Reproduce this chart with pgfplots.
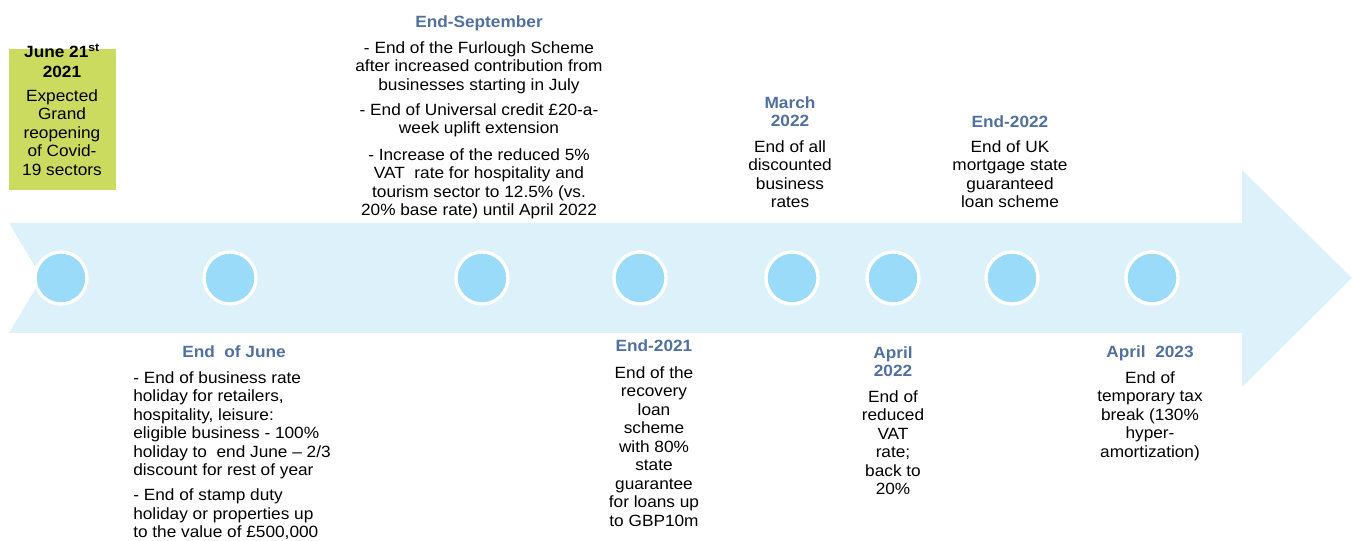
\documentclass[border=0pt]{standalone}
\usepackage{pgfplots}
\pgfplotsset{compat=1.18}
\usepackage{fontspec}
\setmainfont[FakeStretch=1.06]{Liberation Sans}
\definecolor{arrowblue}{HTML}{DDF1FB}
\definecolor{dotblue}{HTML}{99DBF8}
\definecolor{headblue}{HTML}{50709E}
\definecolor{boxgreen}{HTML}{CBDB5F}
\newcommand{\tf}{\fontsize{12.2}{13.9}\selectfont}
\tikzset{
  txt/.style={inner sep=0pt, font=\tf, align=center, anchor=north},
  hd/.style={inner sep=0pt, font=\tf\bfseries, text=headblue, align=center, anchor=north}}
\begin{document}
\begin{tikzpicture}
\begin{axis}[scale only axis, width=1015.5pt, height=405.75pt,
  xmin=0, xmax=1354, ymin=0, ymax=541, y dir=reverse,
  axis lines=none, clip=false]
% green box
\addplot[fill=boxgreen, draw=none] coordinates {(9,49)(116,49)(116,190)(9,190)} -- cycle;
% arrow
\addplot[fill=arrowblue, draw=none] coordinates {(9,223)(1242,223)(1242,170)(1352,278)(1242,387)(1242,333)(9,333)(42,278)} -- cycle;
% milestones
\addplot[only marks, mark=*, mark size=19.5pt, mark options={fill=dotblue, draw=white, line width=2.5pt}]
 coordinates {(61,278)(230,278)(482,278)(640,278)(792,278)(893,278)(1012,278)(1152,278)};

% June 21st
\node[txt, font=\tf\bfseries] at (axis cs:62,44) {June 21\textsuperscript{st}\\[1pt]2021};
\node[txt] at (axis cs:62,89) {Expected\\Grand\\reopening\\of Covid-\\19 sectors};

% End-September
\node[hd] at (axis cs:479,15) {End-September};
\node[txt] at (axis cs:479,41) {- End of the Furlough Scheme\\after increased contribution from\\businesses starting in July\\[5pt]
- End of Universal credit £20-a-\\week uplift extension\\[6pt]
- Increase of the reduced 5\%\\VAT\ \ rate for hospitality and\\tourism sector to 12.5\% (vs.\\20\% base rate) until April 2022};

% March 2022
\node[hd] at (axis cs:790,96) {March\\2022};
\node[txt] at (axis cs:790,140) {End of all\\discounted\\business\\rates};

% End-2022
\node[hd] at (axis cs:1010,115) {End-2022};
\node[txt] at (axis cs:1010,140) {End of UK\\mortgage state\\guaranteed\\loan scheme};

% End of June
\node[hd] at (axis cs:234,345) {End\ \ of June};
\node[inner sep=0pt, font=\tf, align=left, anchor=north west] at (axis cs:133,371)
 {- End of business rate\\holiday for retailers,\\hospitality, leisure:\\eligible business - 100\%\\holiday to\ \ end June -- 2/3\\discount for rest of year\\[5pt]
- End of stamp duty\\holiday or properties up\\to the value of £500,000};

% End-2021
\node[hd] at (axis cs:654,339) {End-2021};
\node[txt] at (axis cs:654,366) {End of the\\recovery\\loan\\scheme\\with 80\%\\state\\guarantee\\for loans up\\to GBP10m};

% April 2022
\node[hd] at (axis cs:893,346) {April\\2022};
\node[txt] at (axis cs:893,390) {End of\\reduced\\VAT\\rate;\\back to\\20\%};

% April 2023
\node[hd] at (axis cs:1150,345) {April\ \ 2023};
\node[txt] at (axis cs:1150,371) {End of\\temporary tax\\break (130\%\\hyper-\\amortization)};
\end{axis}
\pgfresetboundingbox
\path (current axis.south west) rectangle (current axis.north east);
\end{tikzpicture}
\end{document}
